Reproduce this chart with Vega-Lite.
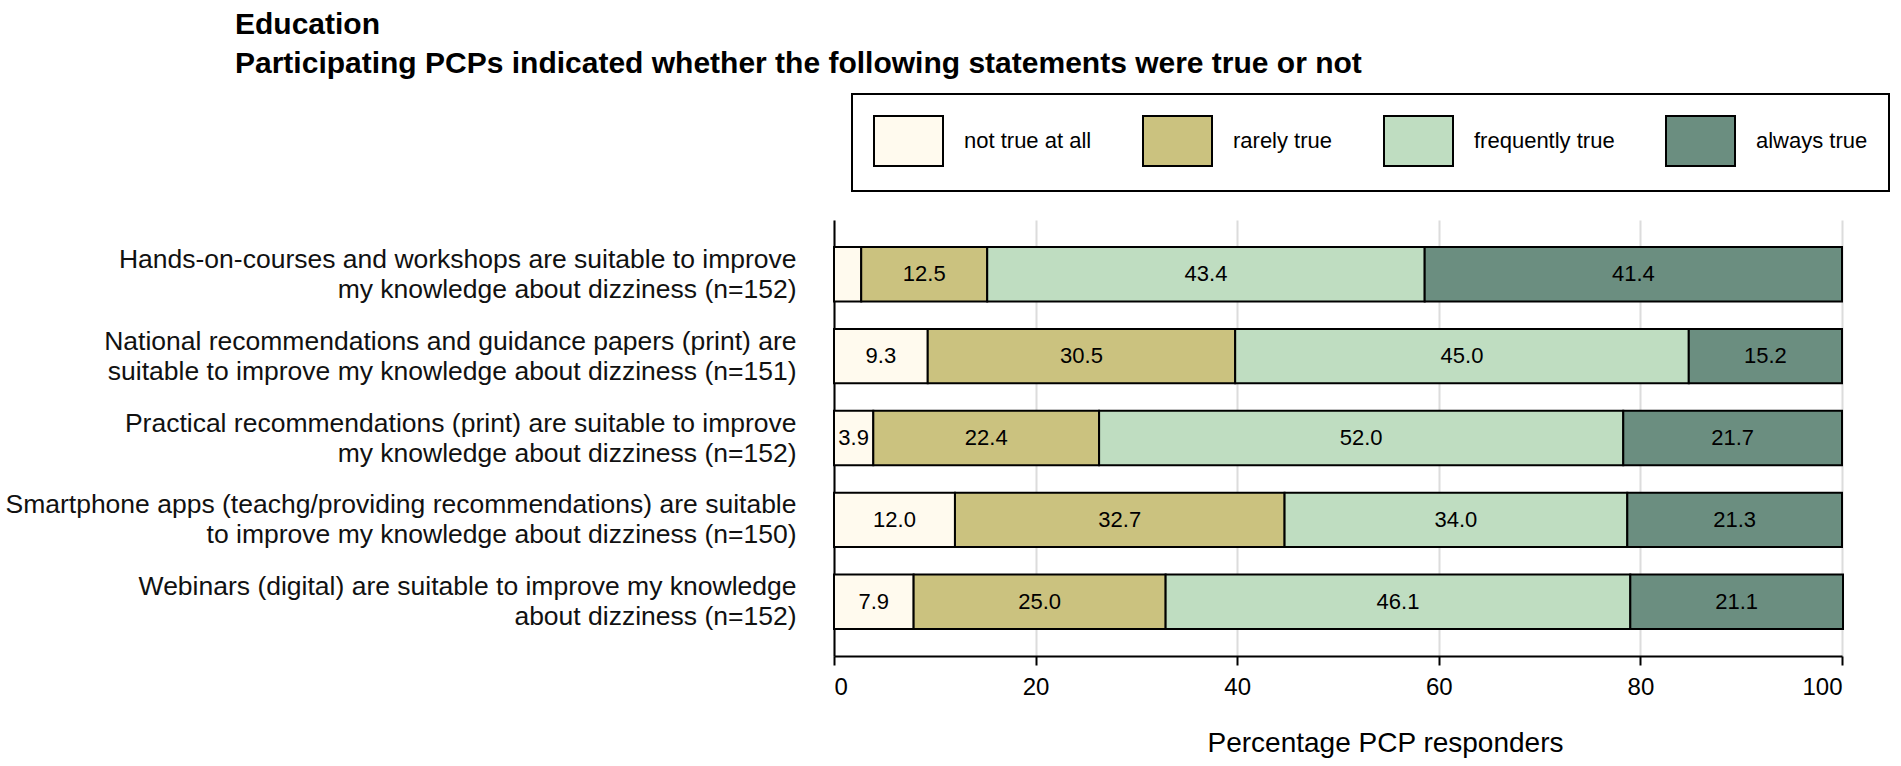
{
  "$schema": "https://vega.github.io/schema/vega-lite/v6.json",
  "autosize": {"type": "none"},
  "padding": {"left": 834, "top": 220, "right": 59, "bottom": 110},
  "width": 1008,
  "height": 436,
  "background": "white",
  "config": {"font": "Liberation Sans", "view": {"stroke": null}},
  "title": {
    "text": ["Education", "Participating PCPs indicated whether the following statements were true or not"],
    "anchor": "start",
    "frame": "group",
    "dx": -599,
    "fontSize": 30,
    "fontWeight": "bold",
    "font": "Liberation Sans",
    "lineHeight": 39,
    "offset": 14,
    "color": "black"
  },
  "data": {
    "values": [
      {"statement": "Hands-on-courses and workshops are suitable to improve|my knowledge about dizziness (n=152)", "response": "not true at all", "order": 1, "pct": 2.7},
      {"statement": "Hands-on-courses and workshops are suitable to improve|my knowledge about dizziness (n=152)", "response": "rarely true", "order": 2, "pct": 12.5},
      {"statement": "Hands-on-courses and workshops are suitable to improve|my knowledge about dizziness (n=152)", "response": "frequently true", "order": 3, "pct": 43.4},
      {"statement": "Hands-on-courses and workshops are suitable to improve|my knowledge about dizziness (n=152)", "response": "always true", "order": 4, "pct": 41.4},
      {"statement": "National recommendations and guidance papers (print) are|suitable to improve my knowledge about dizziness (n=151)", "response": "not true at all", "order": 1, "pct": 9.3},
      {"statement": "National recommendations and guidance papers (print) are|suitable to improve my knowledge about dizziness (n=151)", "response": "rarely true", "order": 2, "pct": 30.5},
      {"statement": "National recommendations and guidance papers (print) are|suitable to improve my knowledge about dizziness (n=151)", "response": "frequently true", "order": 3, "pct": 45.0},
      {"statement": "National recommendations and guidance papers (print) are|suitable to improve my knowledge about dizziness (n=151)", "response": "always true", "order": 4, "pct": 15.2},
      {"statement": "Practical recommendations (print) are suitable to improve|my knowledge about dizziness (n=152)", "response": "not true at all", "order": 1, "pct": 3.9},
      {"statement": "Practical recommendations (print) are suitable to improve|my knowledge about dizziness (n=152)", "response": "rarely true", "order": 2, "pct": 22.4},
      {"statement": "Practical recommendations (print) are suitable to improve|my knowledge about dizziness (n=152)", "response": "frequently true", "order": 3, "pct": 52.0},
      {"statement": "Practical recommendations (print) are suitable to improve|my knowledge about dizziness (n=152)", "response": "always true", "order": 4, "pct": 21.7},
      {"statement": "Smartphone apps (teachg/providing recommendations) are suitable|to improve my knowledge about dizziness  (n=150)", "response": "not true at all", "order": 1, "pct": 12.0},
      {"statement": "Smartphone apps (teachg/providing recommendations) are suitable|to improve my knowledge about dizziness  (n=150)", "response": "rarely true", "order": 2, "pct": 32.7},
      {"statement": "Smartphone apps (teachg/providing recommendations) are suitable|to improve my knowledge about dizziness  (n=150)", "response": "frequently true", "order": 3, "pct": 34.0},
      {"statement": "Smartphone apps (teachg/providing recommendations) are suitable|to improve my knowledge about dizziness  (n=150)", "response": "always true", "order": 4, "pct": 21.3},
      {"statement": "Webinars (digital) are suitable to improve my knowledge|about dizziness (n=152)", "response": "not true at all", "order": 1, "pct": 7.9},
      {"statement": "Webinars (digital) are suitable to improve my knowledge|about dizziness (n=152)", "response": "rarely true", "order": 2, "pct": 25.0},
      {"statement": "Webinars (digital) are suitable to improve my knowledge|about dizziness (n=152)", "response": "frequently true", "order": 3, "pct": 46.1},
      {"statement": "Webinars (digital) are suitable to improve my knowledge|about dizziness (n=152)", "response": "always true", "order": 4, "pct": 21.1}
    ]
  },
  "transform": [
    {"stack": "pct", "groupby": ["statement"], "sort": [{"field": "order", "order": "ascending"}], "as": ["v0", "v1"]}
  ],
  "encoding": {
    "y": {
      "field": "statement",
      "type": "nominal",
      "sort": null,
      "scale": {"paddingInner": 0.336, "paddingOuter": 0.33},
      "axis": {
        "title": null,
        "labelExpr": "split(datum.label, '|')",
        "labelFontSize": 26.5,
        "labelLineHeight": 30,
        "labelOffset": -14.5,
        "labelPadding": 38,
        "labelLimit": 900,
        "labelColor": "#111111",
        "labelFont": "Liberation Sans",
        "ticks": false,
        "domain": true,
        "domainColor": "black",
        "domainWidth": 2,
        "grid": false
      }
    }
  },
  "layer": [
    {
      "mark": {"type": "bar", "stroke": "black", "strokeWidth": 2},
      "encoding": {
        "x": {
          "field": "v0",
          "type": "quantitative",
          "scale": {"domain": [0, 100], "nice": false},
          "axis": {
            "values": [0, 20, 40, 60, 80, 100],
            "title": "Percentage PCP responders",
            "titleFontSize": 28,
            "titleFontWeight": "normal",
            "titleColor": "black",
            "titleFont": "Liberation Sans",
            "titleX": 551,
            "titleY": 95,
            "titleAlign": "center",
            "titleBaseline": "alphabetic",
            "labelFontSize": 24,
            "labelColor": "black",
            "labelPadding": 10,
            "labelFont": "Liberation Sans",
            "domainColor": "black",
            "domainWidth": 2,
            "tickColor": "black",
            "tickWidth": 2,
            "tickSize": 9,
            "grid": true,
            "gridColor": "#dcdcdc",
            "gridWidth": 2
          }
        },
        "x2": {"field": "v1"},
        "color": {
          "field": "response",
          "type": "nominal",
          "scale": {
            "domain": ["not true at all", "rarely true", "frequently true", "always true"],
            "range": ["#FFFAEE", "#CBC27F", "#BFDDC1", "#6B8E80"]
          },
          "legend": {
            "title": null,
            "orient": "none",
            "legendX": 18,
            "legendY": -126,
            "direction": "horizontal",
            "columns": 4,
            "columnPadding": 47,
            "padding": 21,
            "strokeColor": "black",
            "fillColor": "white",
            "symbolType": "M-1,-1H1.76V1H-1Z",
            "symbolSize": 2500,
            "symbolStrokeColor": "black",
            "symbolStrokeWidth": 2,
            "symbolOpacity": 1,
            "labelFontSize": 22,
            "labelOffset": 39,
            "labelColor": "black",
            "labelFont": "Liberation Sans",
            "labelLimit": 400,
            "encode": {"legend": {"update": {"strokeWidth": {"value": 2}}}}
          }
        }
      }
    },
    {
      "transform": [
        {"filter": "datum.pct >= 3"},
        {"fold": ["v0", "v1"], "as": ["edge", "pos"]}
      ],
      "mark": {"type": "text", "fontSize": 22, "color": "black", "align": "center", "baseline": "middle", "font": "Liberation Sans"},
      "encoding": {
        "x": {"field": "pos", "aggregate": "mean", "type": "quantitative"},
        "detail": {"field": "response", "type": "nominal"},
        "text": {"field": "pct", "type": "quantitative", "format": ".1f"}
      }
    }
  ]
}
